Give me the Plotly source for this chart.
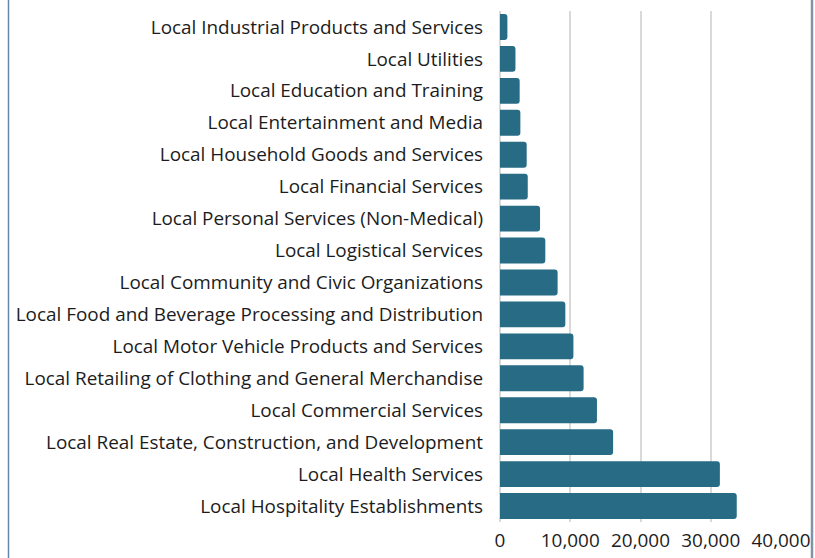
import plotly.graph_objects as go

# Local cluster categories, listed from the bottom bar upward
categories = [
    "Local Hospitality Establishments",
    "Local Health Services",
    "Local Real Estate, Construction, and Development",
    "Local Commercial Services",
    "Local Retailing of Clothing and General Merchandise",
    "Local Motor Vehicle Products and Services",
    "Local Food and Beverage Processing and Distribution",
    "Local Community and Civic Organizations",
    "Local Logistical Services",
    "Local Personal Services (Non-Medical)",
    "Local Financial Services",
    "Local Household Goods and Services",
    "Local Entertainment and Media",
    "Local Education and Training",
    "Local Utilities",
    "Local Industrial Products and Services",
]

values = [
    33700, 31300, 16100, 13800, 11900, 10450, 9300, 8200,
    6450, 5700, 3950, 3800, 2900, 2800, 2200, 1050,
]

tick_values = [0, 10000, 20000, 30000, 40000]
tick_labels = ["0", "10,000", "20,000", "30,000", "40,000"]

BAR_COLOR = "#276b85"
TEXT_COLOR = "#1c1c1c"
FONT = "'Open Sans', Lato, sans-serif"
FONT_SIZE = 18.9

fig = go.Figure(
    go.Bar(
        x=values,
        y=categories,
        orientation="h",
        marker=dict(color=BAR_COLOR, line=dict(width=0)),
        hoverinfo="x+y",
    )
)

# plot area spans x 500..781 px and y 11..522 px
L, R, T, B = 500, 34, 11, 36
W, H = 815, 558
pw = W - L - R
ph = H - T - B

fig.update_layout(
    width=W,
    height=H,
    margin=dict(l=L, r=R, t=T, b=B, pad=0, autoexpand=False),
    paper_bgcolor="white",
    plot_bgcolor="white",
    bargap=0.19,
    barcornerradius=3,
    showlegend=False,
    font=dict(family=FONT, color=TEXT_COLOR, size=FONT_SIZE),
    xaxis=dict(
        range=[0, 40000],
        tickvals=tick_values,
        ticktext=tick_labels,
        showgrid=True,
        gridcolor="#d9d9d9",
        gridwidth=1.5,
        zeroline=True,
        zerolinecolor="#d9d9d9",
        zerolinewidth=1.5,
        showline=False,
        ticks="",
        ticklabelstandoff=5,
        automargin=False,
        tickfont=dict(size=FONT_SIZE, family=FONT, color=TEXT_COLOR),
        fixedrange=True,
    ),
    yaxis=dict(
        categoryorder="array",
        categoryarray=categories,
        showgrid=False,
        showline=False,
        ticks="",
        ticklabelstandoff=16,
        automargin=False,
        tickfont=dict(size=FONT_SIZE, family=FONT, color=TEXT_COLOR),
        fixedrange=True,
    ),
    shapes=[
        # frame edges on the left and right of the figure
        dict(
            type="line", xref="paper", yref="paper",
            x0=(8.5 - L) / pw, x1=(8.5 - L) / pw,
            y0=-B / ph, y1=1 + T / ph,
            line=dict(color="#6588aa", width=1.5),
        ),
        dict(
            type="line", xref="paper", yref="paper",
            x0=(812 - L) / pw, x1=(812 - L) / pw,
            y0=-B / ph, y1=1 + T / ph,
            line=dict(color="#8094a8", width=2.5),
        ),
    ],
)

fig.write_html("out.html", config={"displayModeBar": False})
